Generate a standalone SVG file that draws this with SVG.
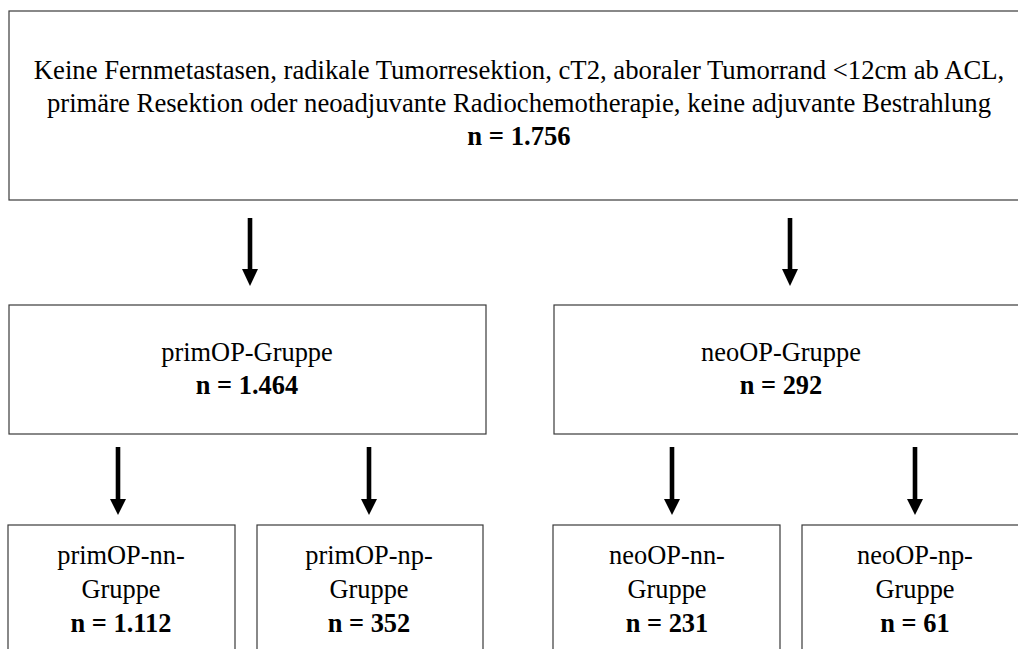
<svg xmlns="http://www.w3.org/2000/svg" width="1018" height="649" viewBox="0 0 1018 649">
<defs>
<style>
.box{fill:#fff;stroke:#3a3a3a;stroke-width:1.2}
.t{fill:#000;text-anchor:middle}
.top{font-size:26.7px}
.mid{font-size:26.4px}
.b{font-weight:bold}
.shaft{stroke:#000;stroke-width:4.6;fill:none}
.head{fill:#000}
</style>
</defs>
<rect width="1018" height="649" fill="#fff"/>
<g font-family="Liberation Serif, Times New Roman, DejaVu Serif, serif">
<g id="root">
<rect class="box" x="9" y="11" width="1030" height="189"/>
<text class="t top" x="519" y="79">Keine Fernmetastasen, radikale Tumorresektion, cT2, aboraler Tumorrand &lt;12cm ab ACL,</text>
<text class="t top" x="519" y="112">primäre Resektion oder neoadjuvante Radiochemotherapie, keine adjuvante Bestrahlung</text>
<text class="t top b" x="519" y="145">n = 1.756</text>
</g>
<g id="primOP">
<rect class="box" x="9" y="305" width="477" height="129"/>
<text class="t mid" x="247" y="361">primOP-Gruppe</text>
<text class="t mid b" x="247" y="394">n = 1.464</text>
</g>
<g id="neoOP">
<rect class="box" x="554" y="305" width="480" height="129"/>
<text class="t mid" x="781" y="361">neoOP-Gruppe</text>
<text class="t mid b" x="781" y="394">n = 292</text>
</g>
<g id="primOP-nn">
<rect class="box" x="8" y="525" width="227" height="140"/>
<text class="t mid" x="121" y="564">primOP-nn-</text>
<text class="t mid" x="121" y="598">Gruppe</text>
<text class="t mid b" x="121" y="632">n = 1.112</text>
</g>
<g id="primOP-np">
<rect class="box" x="257" y="525" width="226" height="140"/>
<text class="t mid" x="369" y="564">primOP-np-</text>
<text class="t mid" x="369" y="598">Gruppe</text>
<text class="t mid b" x="369" y="632">n = 352</text>
</g>
<g id="neoOP-nn">
<rect class="box" x="553" y="525" width="227" height="140"/>
<text class="t mid" x="667" y="564">neoOP-nn-</text>
<text class="t mid" x="667" y="598">Gruppe</text>
<text class="t mid b" x="667" y="632">n = 231</text>
</g>
<g id="neoOP-np">
<rect class="box" x="802" y="525" width="230" height="140"/>
<text class="t mid" x="915" y="564">neoOP-np-</text>
<text class="t mid" x="915" y="598">Gruppe</text>
<text class="t mid b" x="915" y="632">n = 61</text>
</g>
</g>
<g id="connectors">
<line class="shaft" x1="250" y1="218" x2="250" y2="272"/>
<polygon class="head" points="242,269 258,269 250,286"/>
<line class="shaft" x1="790" y1="218" x2="790" y2="272"/>
<polygon class="head" points="782,269 798,269 790,286"/>
<line class="shaft" x1="118" y1="447" x2="118" y2="502"/>
<polygon class="head" points="110,499 126,499 118,515"/>
<line class="shaft" x1="369" y1="447" x2="369" y2="502"/>
<polygon class="head" points="361,499 377,499 369,515"/>
<line class="shaft" x1="672" y1="447" x2="672" y2="502"/>
<polygon class="head" points="664,499 680,499 672,515"/>
<line class="shaft" x1="915" y1="447" x2="915" y2="502"/>
<polygon class="head" points="907,499 923,499 915,515"/>
</g>
</svg>
